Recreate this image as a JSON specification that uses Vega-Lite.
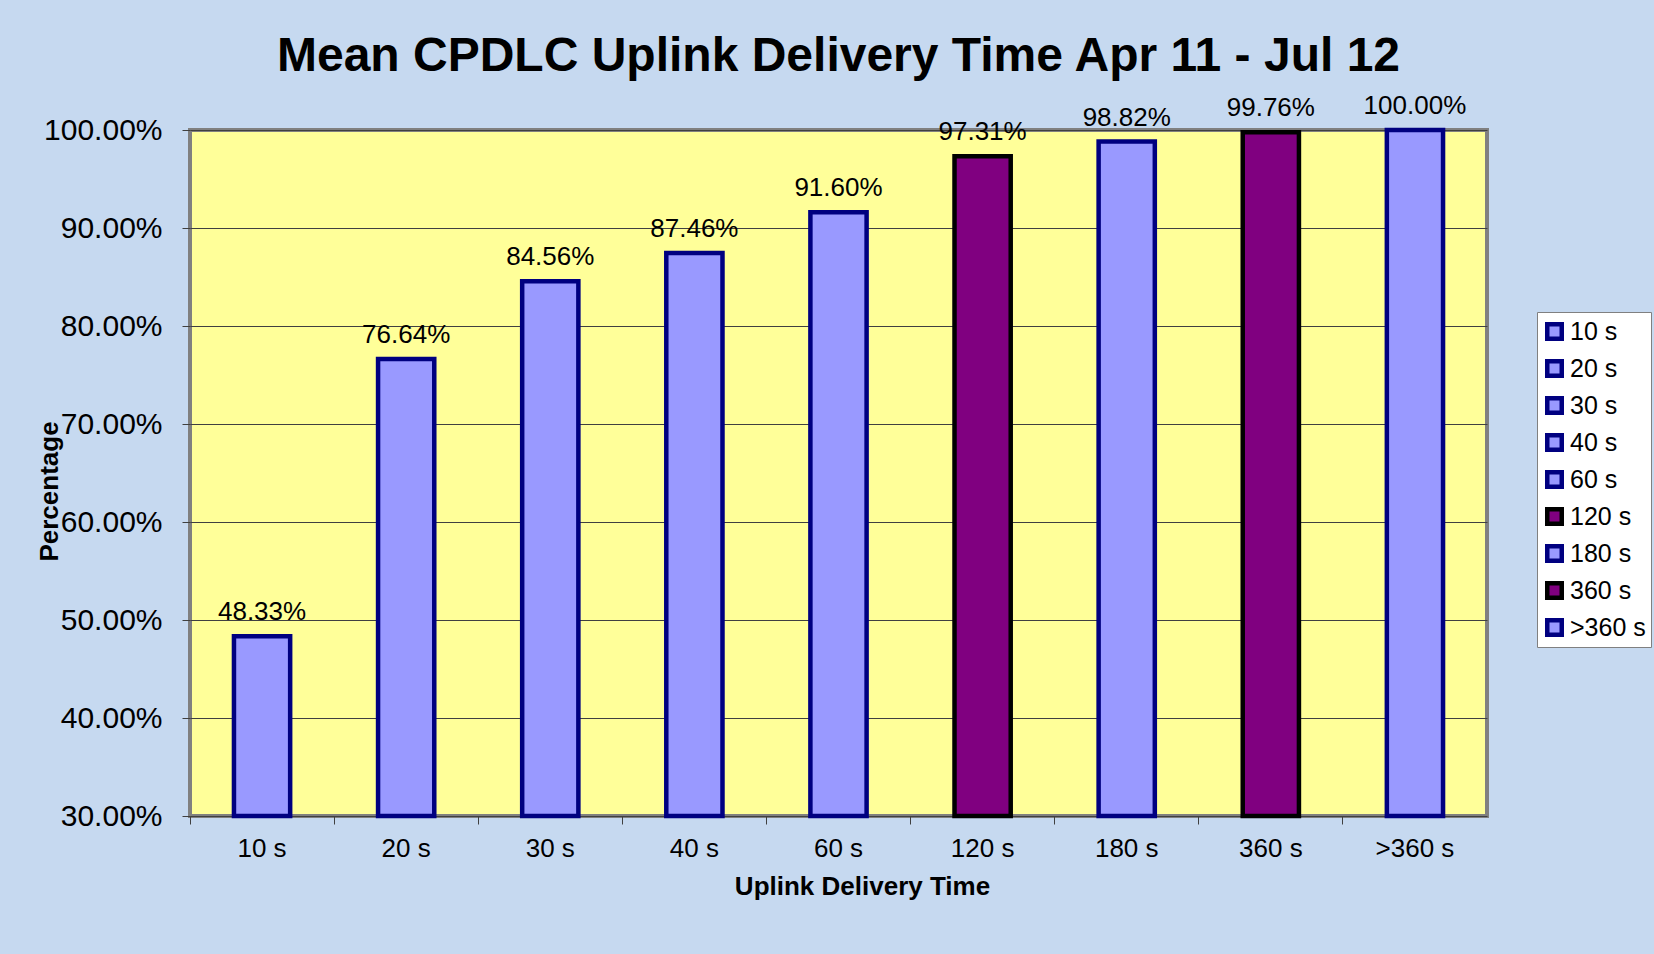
{
  "$schema": "https://vega.github.io/schema/vega-lite/v6.json",
  "autosize": {"type": "none"},
  "width": 1297,
  "height": 686,
  "padding": {"left": 190, "top": 130, "right": 167, "bottom": 138},
  "background": "#C6D9F0",
  "title": {
    "text": "Mean CPDLC Uplink Delivery Time Apr 11 - Jul 12",
    "font": "Liberation Sans",
    "fontSize": 48,
    "fontWeight": "bold",
    "color": "#000000",
    "anchor": "middle",
    "baseline": "alphabetic",
    "offset": -26
  },
  "config": {
    "font": "Liberation Sans",
    "view": {"fill": "#FFFF99", "stroke": "#808080", "strokeWidth": 4}
  },
  "data": {
    "values": [
      {"time": "10 s", "pct": 0.4833},
      {"time": "20 s", "pct": 0.7664},
      {"time": "30 s", "pct": 0.8456},
      {"time": "40 s", "pct": 0.8746},
      {"time": "60 s", "pct": 0.9160},
      {"time": "120 s", "pct": 0.9731},
      {"time": "180 s", "pct": 0.9882},
      {"time": "360 s", "pct": 0.9976},
      {"time": ">360 s", "pct": 1.0}
    ]
  },
  "encoding": {
    "x": {
      "field": "time",
      "type": "nominal",
      "sort": null,
      "scale": {"paddingInner": 0, "paddingOuter": 0},
      "axis": {
        "title": "Uplink Delivery Time",
        "titleFont": "Liberation Sans",
        "titleFontSize": 26,
        "titleFontWeight": "bold",
        "titleColor": "#000000",
        "titleBaseline": "alphabetic",
        "titleX": 672,
        "titleY": 78,
        "labelAngle": 0,
        "labelFont": "Liberation Sans",
        "labelFontSize": 26,
        "labelColor": "#000000",
        "labelPadding": 11,
        "bandPosition": 0,
        "tickSize": 8,
        "tickColor": "#404040",
        "tickWidth": 1,
        "domain": false,
        "grid": false
      }
    },
    "y": {
      "field": "pct",
      "type": "quantitative",
      "scale": {"domain": [0.3, 1.0], "nice": false, "zero": false},
      "axis": {
        "title": "Percentage",
        "titleFont": "Liberation Sans",
        "titleFontSize": 26,
        "titleFontWeight": "bold",
        "titleColor": "#000000",
        "titleBaseline": "alphabetic",
        "titleAngle": -90,
        "titleX": -133,
        "titleY": 361,
        "values": [0.3, 0.4, 0.5, 0.6, 0.7, 0.8, 0.9, 1.0],
        "format": ".2%",
        "labelFont": "Liberation Sans",
        "labelFontSize": 30,
        "labelColor": "#000000",
        "labelPadding": 20,
        "tickSize": 8,
        "tickColor": "#404040",
        "tickWidth": 1,
        "domain": false,
        "grid": true,
        "gridColor": "#404040",
        "gridWidth": 1,
        "gridOpacity": 1
      }
    }
  },
  "layer": [
    {
      "mark": {"type": "bar", "width": {"band": 0.39}, "strokeWidth": 4.5, "opacity": 1},
      "encoding": {
        "y2": {"datum": 0.3},
        "fill": {
          "field": "time",
          "type": "nominal",
          "sort": null,
          "scale": {
            "domain": ["10 s", "20 s", "30 s", "40 s", "60 s", "120 s", "180 s", "360 s", ">360 s"],
            "range": ["#9999FF", "#9999FF", "#9999FF", "#9999FF", "#9999FF", "#800080", "#9999FF", "#800080", "#9999FF"]
          },
          "legend": {
            "title": null,
            "orient": "none",
            "legendX": 1347,
            "legendY": 182,
            "fillColor": "#FFFFFF",
            "strokeColor": "#808080",
            "padding": 5,
            "symbolType": "square",
            "symbolSize": 210,
            "symbolStrokeWidth": 4.5,
            "symbolOpacity": 1,
            "labelFont": "Liberation Sans",
            "labelFontSize": 25,
            "labelColor": "#000000",
            "labelOffset": 3,
            "clipHeight": 29,
            "rowPadding": 8,
            "labelLimit": 200
          }
        },
        "stroke": {
          "field": "time",
          "type": "nominal",
          "sort": null,
          "scale": {
            "domain": ["10 s", "20 s", "30 s", "40 s", "60 s", "120 s", "180 s", "360 s", ">360 s"],
            "range": ["#000080", "#000080", "#000080", "#000080", "#000080", "#000000", "#000080", "#000000", "#000080"]
          },
          "legend": {
            "title": null,
            "orient": "none",
            "legendX": 1347,
            "legendY": 182,
            "fillColor": "#FFFFFF",
            "strokeColor": "#808080",
            "padding": 5,
            "symbolType": "square",
            "symbolSize": 210,
            "symbolStrokeWidth": 4.5,
            "symbolOpacity": 1,
            "labelFont": "Liberation Sans",
            "labelFontSize": 25,
            "labelColor": "#000000",
            "labelOffset": 3,
            "clipHeight": 29,
            "rowPadding": 8,
            "labelLimit": 200
          }
        }
      }
    },
    {
      "mark": {"type": "text", "baseline": "alphabetic", "dy": -16, "font": "Liberation Sans", "fontSize": 26, "color": "#000000"},
      "encoding": {
        "text": {"field": "pct", "type": "quantitative", "format": ".2%"}
      }
    }
  ]
}
